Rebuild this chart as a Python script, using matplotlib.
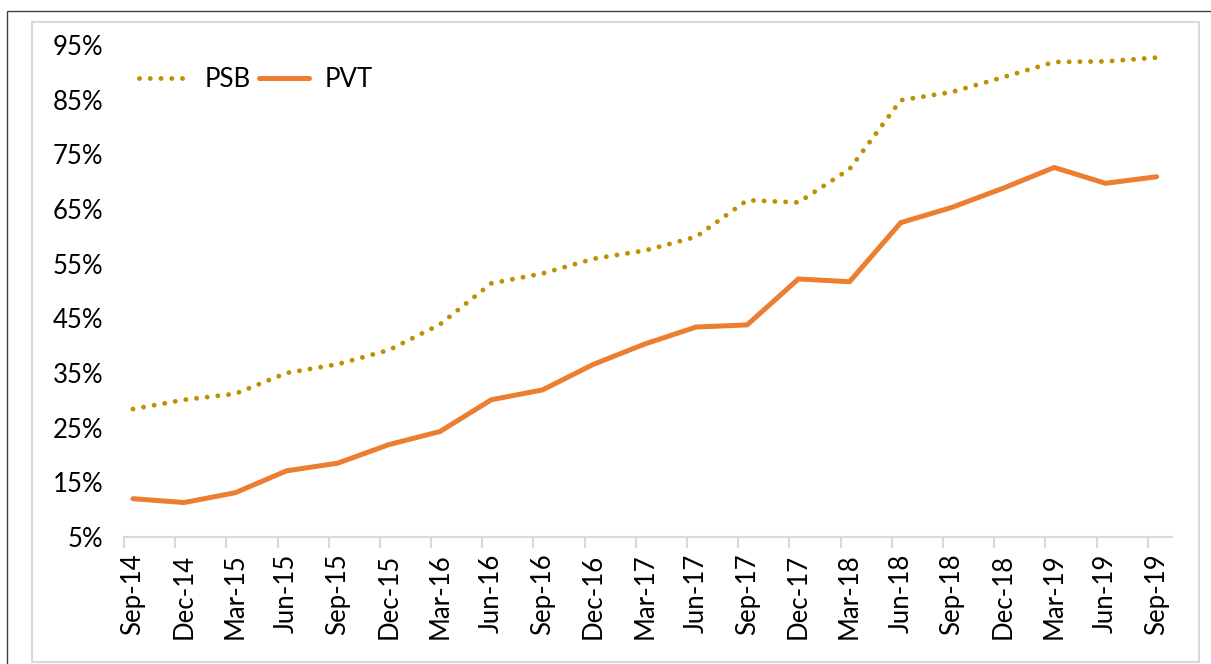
import matplotlib
matplotlib.use("Agg")
import matplotlib.pyplot as plt
from matplotlib.patches import Rectangle

quarters = ["Sep-14", "Dec-14", "Mar-15", "Jun-15", "Sep-15", "Dec-15", "Mar-16",
            "Jun-16", "Sep-16", "Dec-16", "Mar-17", "Jun-17", "Sep-17", "Dec-17",
            "Mar-18", "Jun-18", "Sep-18", "Dec-18", "Mar-19", "Jun-19", "Sep-19"]
psb = [28.4, 30.1, 31.2, 35.0, 36.6, 39.2, 43.9, 51.4, 53.2, 55.9, 57.4,
       59.9, 66.6, 66.2, 72.3, 84.9, 86.4, 89.1, 91.9, 92.0, 92.7]
pvt = [12.0, 11.3, 13.1, 17.1, 18.5, 21.9, 24.3, 30.1, 31.9, 36.6, 40.3,
       43.4, 43.8, 52.2, 51.7, 62.5, 65.3, 68.8, 72.6, 69.7, 70.9]
yticks = [5, 15, 25, 35, 45, 55, 65, 75, 85, 95]

plt.rcParams["font.family"] = ["Lato", "DejaVu Sans"]
fs = 18.5

fig = plt.figure(figsize=(12.11, 6.64), dpi=100)
ax = fig.add_axes([0.1024, 0.1913, 0.8654, 0.7409])

x = list(range(len(quarters)))
ax.plot(x, psb, color="#BF9000", lw=3.5, linestyle=(0, (0.01, 2.2)),
        dash_capstyle="round", label="PSB", clip_on=False)
ax.plot(x, pvt, color="#ED7D31", lw=3.6, solid_capstyle="round",
        solid_joinstyle="miter", label="PVT", clip_on=False)

ax.set_ylim(5, 95)
ax.set_xlim(-0.175, len(quarters) - 1 + 0.3)
ax.set_yticks(yticks)
ax.set_yticklabels([f"{v}%" for v in yticks], fontsize=fs)
ax.tick_params(axis="y", length=0, pad=15)

ax.set_xticks(x)
ax.set_xticklabels(quarters, rotation=90, fontsize=fs)
ax.tick_params(axis="x", which="major", length=0, pad=12)
ax.set_xticks([i - 0.175 for i in x], minor=True)
ax.tick_params(axis="x", which="minor", length=8, width=1.5, color="#D9D9D9")

for side in ["left", "right", "top"]:
    ax.spines[side].set_visible(False)
ax.spines["bottom"].set_color("#D9D9D9")
ax.spines["bottom"].set_linewidth(1.5)

ax.legend(loc="upper left", bbox_to_anchor=(-0.008, 1.003), ncol=2, frameon=False,
          fontsize=fs, handlelength=1.95, handletextpad=0.6, columnspacing=0.35)

# chart frame + outer border
fig.patches.append(Rectangle((0.0264, 0.003), 0.9637, 0.9639, transform=fig.transFigure,
                             fill=False, edgecolor="#D9D9D9", lw=1.5))
fig.patches.append(Rectangle((0.0058, -0.1), 1.2, 1.0834, transform=fig.transFigure,
                             fill=False, edgecolor="#404040", lw=1.0))

fig.savefig("out.png", dpi=100)
